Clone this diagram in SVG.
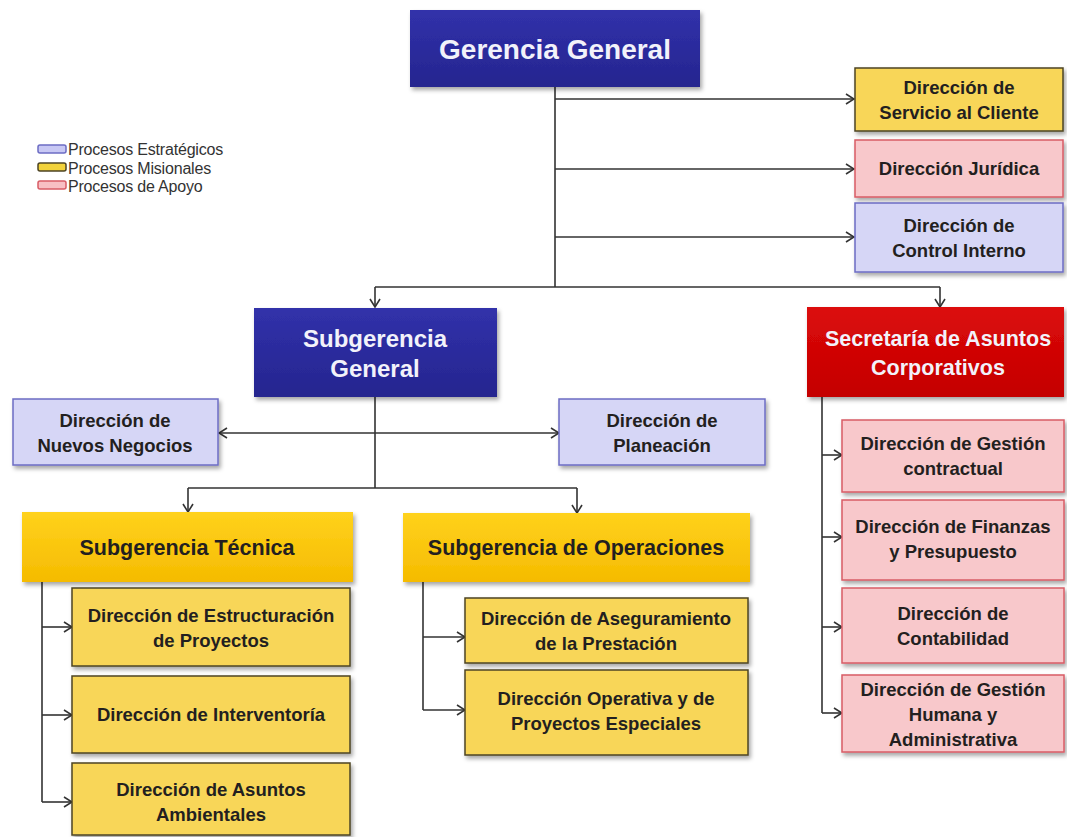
<svg xmlns="http://www.w3.org/2000/svg" width="1067" height="837" viewBox="0 0 1067 837">
<defs>
<style>
text{font-family:"Liberation Sans",Arial,sans-serif;font-weight:bold;text-anchor:middle}
.w{fill:#f2f2fa}
.d{fill:#231f20;font-size:18.5px}
.sg{font-size:21.5px}
.blue{fill:url(#gBlue);filter:url(#sh)}
.red{fill:url(#gRed);filter:url(#sh)}
.gold{fill:url(#gGold);filter:url(#sh)}
.yel{fill:#f8d658;stroke:#4d4424;stroke-width:1.5;filter:url(#sh)}
.pink{fill:#f8c8cb;stroke:#d85c66;stroke-width:1.5;filter:url(#sh)}
.lav{fill:#d6d6f6;stroke:#6c6cc4;stroke-width:1.5;filter:url(#sh)}
.c{fill:none;stroke:#333;stroke-width:1.6}
.leg{font-weight:normal;text-anchor:start;font-size:16px;fill:#333;letter-spacing:-0.2px}
</style>
<linearGradient id="gBlue" x1="0" y1="0" x2="0" y2="1"><stop offset="0" stop-color="#3131aa"/><stop offset="1" stop-color="#25258f"/></linearGradient>
<linearGradient id="gRed" x1="0" y1="0" x2="0" y2="1"><stop offset="0" stop-color="#dc0a0a"/><stop offset="1" stop-color="#c40000"/></linearGradient>
<linearGradient id="gGold" x1="0" y1="0" x2="0" y2="1"><stop offset="0" stop-color="#ffd21c"/><stop offset="1" stop-color="#f5bb00"/></linearGradient>
<filter id="sh" x="-10%" y="-10%" width="125%" height="135%"><feDropShadow dx="2" dy="3" stdDeviation="2" flood-color="#000" flood-opacity="0.35"/></filter>
<marker id="ar" viewBox="0 0 12 12" refX="11" refY="6" markerWidth="12" markerHeight="12" markerUnits="userSpaceOnUse" orient="auto"><path d="M3,1 L11,6 L3,11" fill="none" stroke="#333" stroke-width="1.6"/></marker>
</defs>
<rect width="1067" height="837" fill="#fff"/>

<g id="legend">
<rect x="38" y="145" width="28" height="8" rx="2" fill="#c8c8f4" stroke="#6c6cc4" stroke-width="1.5"/>
<rect x="38" y="163" width="28" height="8" rx="2" fill="#f2d23a" stroke="#4d4424" stroke-width="1.5"/>
<rect x="38" y="181" width="28" height="8" rx="2" fill="#f8c0c4" stroke="#d85c66" stroke-width="1.5"/>
<text class="leg" x="68" y="155">Procesos Estratégicos</text>
<text class="leg" x="68" y="174">Procesos Misionales</text>
<text class="leg" x="68" y="192">Procesos de Apoyo</text>
</g>

<g id="connectors">
<path class="c" d="M555,87 V287 M375,287 H940"/>
<path class="c" d="M375,287 V307" marker-end="url(#ar)"/>
<path class="c" d="M940,287 V307" marker-end="url(#ar)"/>
<path class="c" d="M555,99 H854" marker-end="url(#ar)"/>
<path class="c" d="M555,169 H854" marker-end="url(#ar)"/>
<path class="c" d="M555,237 H854" marker-end="url(#ar)"/>
<path class="c" d="M375,397 V488 M188,488 H577"/>
<path class="c" d="M375,433 H219" marker-end="url(#ar)"/>
<path class="c" d="M375,433 H559" marker-end="url(#ar)"/>
<path class="c" d="M188,488 V512" marker-end="url(#ar)"/>
<path class="c" d="M577,488 V513" marker-end="url(#ar)"/>
<path class="c" d="M42,582 V802"/>
<path class="c" d="M42,627 H72" marker-end="url(#ar)"/>
<path class="c" d="M42,715 H72" marker-end="url(#ar)"/>
<path class="c" d="M42,802 H72" marker-end="url(#ar)"/>
<path class="c" d="M423,582 V710"/>
<path class="c" d="M423,637 H465" marker-end="url(#ar)"/>
<path class="c" d="M423,710 H465" marker-end="url(#ar)"/>
<path class="c" d="M822,397 V713"/>
<path class="c" d="M822,455 H842" marker-end="url(#ar)"/>
<path class="c" d="M822,537 H842" marker-end="url(#ar)"/>
<path class="c" d="M822,627 H842" marker-end="url(#ar)"/>
<path class="c" d="M822,713 H842" marker-end="url(#ar)"/>
</g>

<g id="gerencia-general">
<rect class="blue" x="410" y="10" width="290" height="77"/>
<text class="w" x="555" y="59" font-size="28">Gerencia General</text>
</g>

<g id="dir-servicio-cliente">
<rect class="yel" x="855" y="68" width="208" height="63"/>
<text class="d" x="959" y="94">Dirección de</text>
<text class="d" x="959" y="119">Servicio al Cliente</text>
</g>
<g id="dir-juridica">
<rect class="pink" x="855" y="140" width="208" height="57"/>
<text class="d" x="959" y="175">Dirección Jurídica</text>
</g>
<g id="dir-control-interno">
<rect class="lav" x="855" y="203" width="208" height="69"/>
<text class="d" x="959" y="232">Dirección de</text>
<text class="d" x="959" y="257">Control Interno</text>
</g>

<g id="subgerencia-general">
<rect class="blue" x="254" y="308" width="243" height="89"/>
<text class="w" x="375" y="347" font-size="24">Subgerencia</text>
<text class="w" x="375" y="377" font-size="24">General</text>
</g>

<g id="secretaria">
<rect class="red" x="807" y="307" width="257" height="90"/>
<text class="w" x="938" y="346" font-size="21.5">Secretaría de Asuntos</text>
<text class="w" x="938" y="375" font-size="21.5">Corporativos</text>
</g>

<g id="dir-nuevos-negocios">
<rect class="lav" x="13" y="399" width="205" height="66"/>
<text class="d" x="115" y="427">Dirección de</text>
<text class="d" x="115" y="452">Nuevos Negocios</text>
</g>
<g id="dir-planeacion">
<rect class="lav" x="559" y="399" width="206" height="66"/>
<text class="d" x="662" y="427">Dirección de</text>
<text class="d" x="662" y="452">Planeación</text>
</g>

<g id="subgerencia-tecnica">
<rect class="gold" x="22" y="512" width="331" height="70"/>
<text class="d sg" x="187" y="555">Subgerencia Técnica</text>
</g>
<g id="subgerencia-operaciones">
<rect class="gold" x="403" y="513" width="347" height="69"/>
<text class="d sg" x="576" y="555">Subgerencia de Operaciones</text>
</g>

<g id="dir-estructuracion">
<rect class="yel" x="72" y="588" width="278" height="78"/>
<text class="d" x="211" y="622">Dirección de Estructuración</text>
<text class="d" x="211" y="647">de Proyectos</text>
</g>
<g id="dir-interventoria">
<rect class="yel" x="72" y="676" width="278" height="77"/>
<text class="d" x="211" y="721">Dirección de Interventoría</text>
</g>
<g id="dir-asuntos-ambientales">
<rect class="yel" x="72" y="763" width="278" height="72"/>
<text class="d" x="211" y="796">Dirección de Asuntos</text>
<text class="d" x="211" y="821">Ambientales</text>
</g>

<g id="dir-aseguramiento">
<rect class="yel" x="465" y="598" width="283" height="65"/>
<text class="d" x="606" y="625">Dirección de Aseguramiento</text>
<text class="d" x="606" y="650">de la Prestación</text>
</g>
<g id="dir-operativa">
<rect class="yel" x="465" y="670" width="283" height="85"/>
<text class="d" x="606" y="705">Dirección Operativa y de</text>
<text class="d" x="606" y="730">Proyectos Especiales</text>
</g>

<g id="dir-gestion-contractual">
<rect class="pink" x="842" y="420" width="222" height="72"/>
<text class="d" x="953" y="450">Dirección de Gestión</text>
<text class="d" x="953" y="475">contractual</text>
</g>
<g id="dir-finanzas">
<rect class="pink" x="842" y="500" width="222" height="80"/>
<text class="d" x="953" y="533">Dirección de Finanzas</text>
<text class="d" x="953" y="558">y Presupuesto</text>
</g>
<g id="dir-contabilidad">
<rect class="pink" x="842" y="588" width="222" height="75"/>
<text class="d" x="953" y="620">Dirección de</text>
<text class="d" x="953" y="645">Contabilidad</text>
</g>
<g id="dir-gestion-humana">
<rect class="pink" x="842" y="675" width="222" height="77"/>
<text class="d" x="953" y="696">Dirección de Gestión</text>
<text class="d" x="953" y="721">Humana y</text>
<text class="d" x="953" y="746">Administrativa</text>
</g>
</svg>
